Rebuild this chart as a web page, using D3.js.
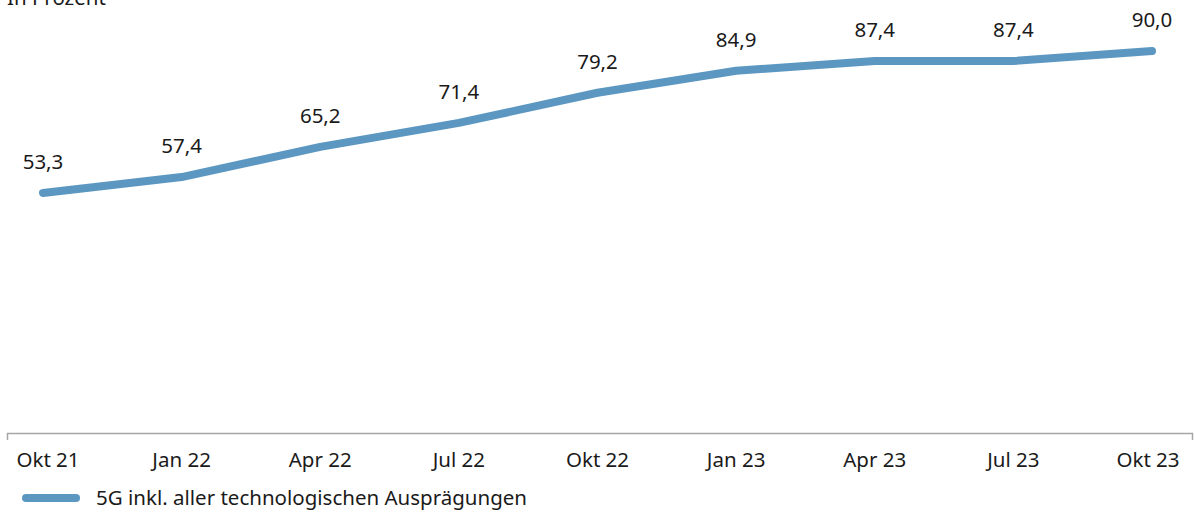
<!DOCTYPE html>
<html>
<head>
<meta charset="utf-8">
<script src="https://cdn.jsdelivr.net/npm/d3@7"></script>
<style>
  body { margin: 0; background: #fff; }
  svg { display: block; font-family: "Noto Sans", sans-serif; }
</style>
</head>
<body>
<svg id="chart" width="1194" height="512"></svg>
<script>
// daten
var quarters = ["Okt 21", "Jan 22", "Apr 22", "Jul 22", "Okt 22", "Jan 23", "Apr 23", "Jul 23", "Okt 23"];
var coverage = [53.3, 57.4, 65.2, 71.4, 79.2, 84.9, 87.4, 87.4, 90.0];
var seriesName = "5G inkl. aller technologischen Ausprägungen";
var unitLabel = "In Prozent";

var svg = d3.select("#chart");
var lineColor = "#5b97c1";
var fs = 20.5;

var x = d3.scalePoint().domain(quarters).range([43, 1152]);
var y = d3.scaleLinear().domain([0, 90]).range([399, 51]);
var fmt = function (v) { return d3.format(".1f")(v).replace(".", ","); };

svg.append("text")
    .attr("x", 7).attr("y", 5)
    .attr("font-size", fs).attr("fill", "#1a1a1a")
    .text(unitLabel);

// x-achse
var axisY = 433;
var xAxis = svg.append("g").attr("transform", "translate(0," + axisY + ")");
xAxis.append("path")
    .attr("d", "M7.5,7V0.5H1192.5V7")
    .attr("fill", "none").attr("stroke", "#a6a6a6").attr("stroke-width", 1.5);
xAxis.selectAll("text.tick")
    .data(quarters).enter().append("text")
    .attr("class", "tick")
    .attr("x", function (d) { return x(d) + (d === "Okt 21" ? 5 : d === "Okt 23" ? -4 : 0); })
    .attr("y", 34)
    .attr("text-anchor", "middle")
    .attr("font-size", fs).attr("fill", "#1a1a1a")
    .text(function (d) { return d; });

// linie
var pts = quarters.map(function (q, i) { return { q: q, v: coverage[i] }; });
svg.append("path")
    .datum(pts)
    .attr("fill", "none")
    .attr("stroke", lineColor)
    .attr("stroke-width", 8)
    .attr("stroke-linecap", "round")
    .attr("stroke-linejoin", "round")
    .attr("d", d3.line().x(function (d) { return x(d.q); }).y(function (d) { return y(d.v); }));

svg.selectAll("text.val")
    .data(pts).enter().append("text")
    .attr("class", "val")
    .attr("x", function (d) { return x(d.q); })
    .attr("y", function (d) { return y(d.v) - 24; })
    .attr("text-anchor", "middle")
    .attr("font-size", fs).attr("fill", "#1a1a1a")
    .text(function (d) { return fmt(d.v); });

// legende
var lg = svg.append("g").attr("transform", "translate(0,498)");
lg.append("line")
    .attr("x1", 26).attr("x2", 76).attr("y1", 0).attr("y2", 0)
    .attr("stroke", lineColor).attr("stroke-width", 8).attr("stroke-linecap", "round");
lg.append("text")
    .attr("x", 96).attr("y", 7)
    .attr("font-size", fs).attr("fill", "#1a1a1a")
    .text(seriesName);
</script>
</body>
</html>
